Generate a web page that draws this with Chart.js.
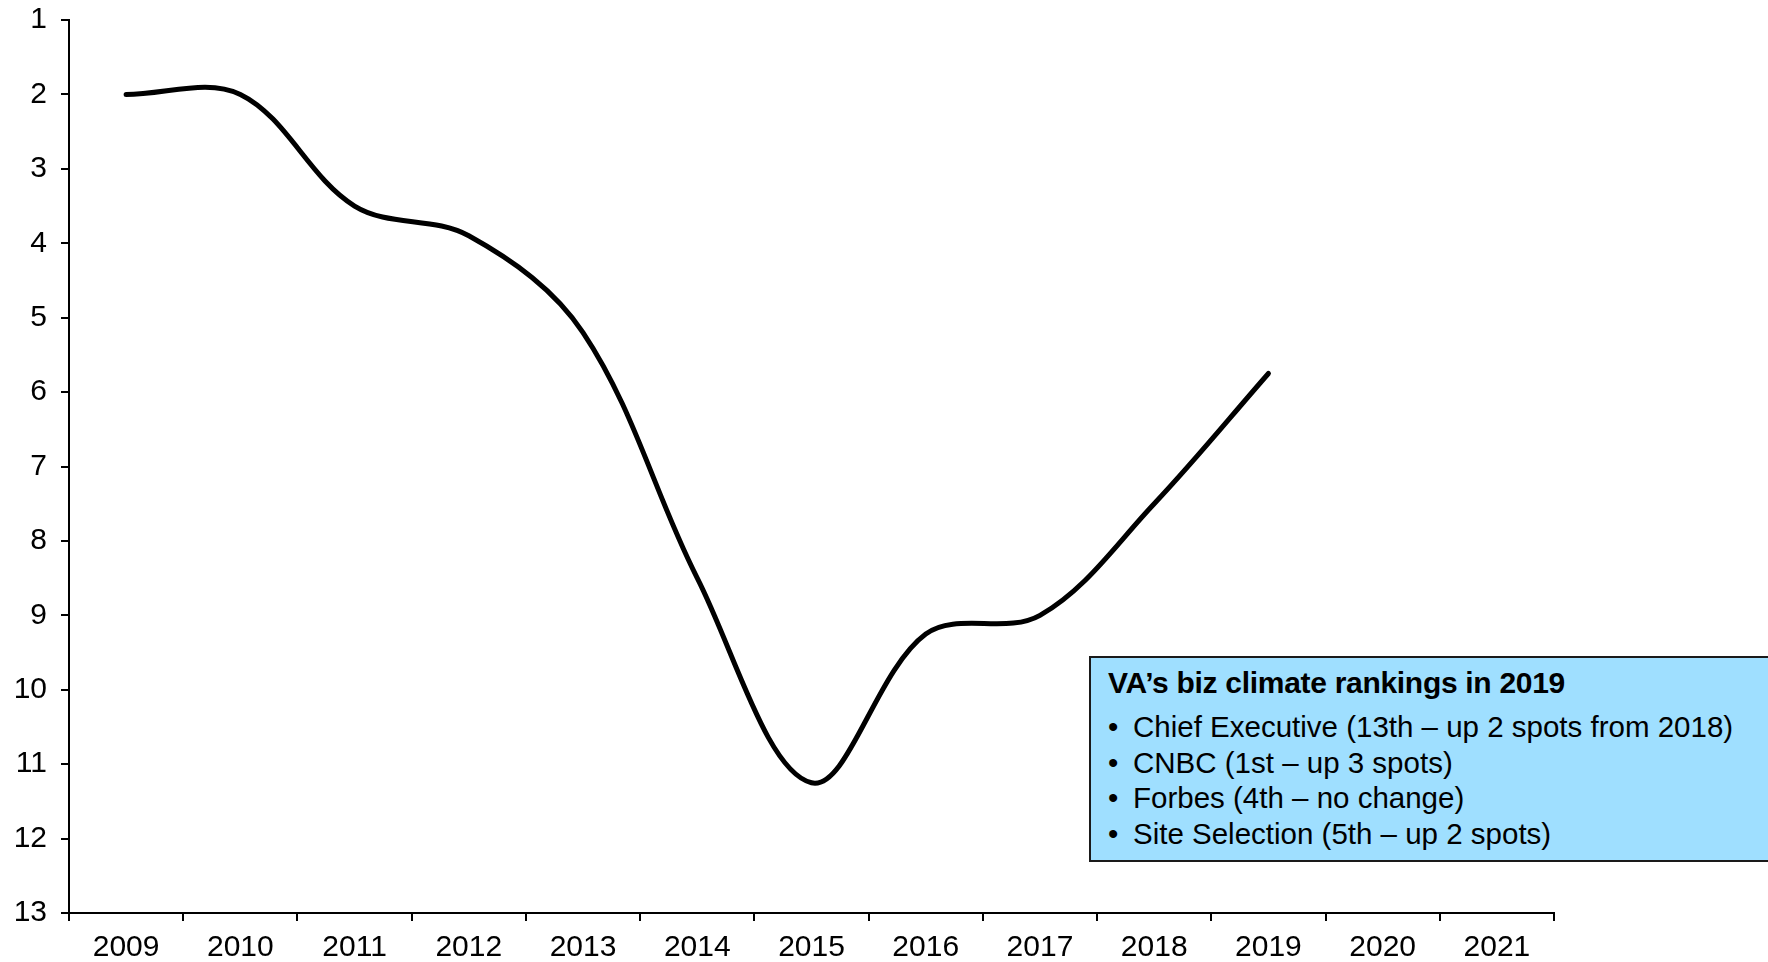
<!DOCTYPE html>
<html>
<head>
<meta charset="utf-8">
<script src="https://cdn.jsdelivr.net/npm/chart.js@4"></script>
<style>
    html, body { margin: 0; padding: 0; background: #fff; overflow: hidden; }
    #wrap { position: relative; width: 1768px; height: 962px; }
    #rankChart { position: absolute; left: 0; top: 0; }
    .note {
        position: absolute; left: 1089px; top: 656px; width: 700px; height: 206px;
        background: #9fdfff; border: 2px solid #1a1a1a; box-sizing: border-box;
        font-family: "Liberation Sans", Arial, sans-serif; color: #000;
        padding: 8px 0 0 17px;
    }
    .note h3 { margin: 0 0 9px 0; font-size: 30px; font-weight: bold; letter-spacing: -0.3px; }
    .note ul { margin: 0; padding: 0; list-style: none; }
    .note li { font-size: 29.5px; line-height: 35.5px; }
    .note li::before { content: "\2022"; display: inline-block; width: 25px; }
</style>
</head>
<body>
<div id="wrap">
    <canvas id="rankChart" width="1768" height="962"></canvas>
    <div class="note">
        <h3>VA’s biz climate rankings in 2019</h3>
        <ul>
            <li>Chief Executive (13th – up 2 spots from 2018)</li>
            <li>CNBC (1st – up 3 spots)</li>
            <li>Forbes (4th – no change)</li>
            <li>Site Selection (5th – up 2 spots)</li>
        </ul>
    </div>
</div>
<script>
// Average rank across the four business climate lists (lower is better)
const years = ['2009', '2010', '2011', '2012', '2013', '2014', '2015', '2016', '2017', '2018', '2019', '2020', '2021'];
const avgRank = [2, 2, 3.5, 3.9, 5.2, 8.5, 11.25, 9.25, 9.0, 7.5, 5.75, null, null];
const rankTicks = [1, 2, 3, 4, 5, 6, 7, 8, 9, 10, 11, 12, 13];

const axisFont = { family: '"Liberation Sans", Arial, sans-serif', size: 30, lineHeight: 1 };

new Chart(document.getElementById('rankChart').getContext('2d'), {
    type: 'line',
    data: {
        labels: years,
        datasets: [{
            label: 'Average rank',
            data: avgRank,
            borderColor: '#000',
            borderWidth: 5,
            borderCapStyle: 'round',
            pointRadius: 0,
            tension: 0.35,
            fill: false
        }]
    },
    options: {
        responsive: false,
        animation: false,
        devicePixelRatio: 1,
        layout: { padding: { top: 0, right: 214, left: 0, bottom: 0 } },
        plugins: { legend: { display: false }, tooltip: { enabled: false } },
        scales: {
            x: {
                offset: true,
                grid: { offset: true, drawOnChartArea: false, drawTicks: true, tickLength: 8, color: '#000', lineWidth: 2 },
                border: { color: '#000', width: 2 },
                ticks: { color: '#000', font: axisFont, padding: 12, maxRotation: 0 },
                afterFit: s => { s.height = 49; }
            },
            y: {
                reverse: true,
                min: rankTicks[0],
                max: rankTicks[rankTicks.length - 1],
                afterBuildTicks: s => { s.ticks = rankTicks.map(v => ({ value: v })); },
                grid: { drawOnChartArea: false, drawTicks: true, tickLength: 8, color: '#000', lineWidth: 2 },
                border: { color: '#000', width: 2 },
                ticks: { color: '#000', font: axisFont, padding: 14 },
                afterFit: s => { s.width = 69; s.paddingTop = 20; s.paddingBottom = 0; }
            }
        }
    }
});
</script>
</body>
</html>
